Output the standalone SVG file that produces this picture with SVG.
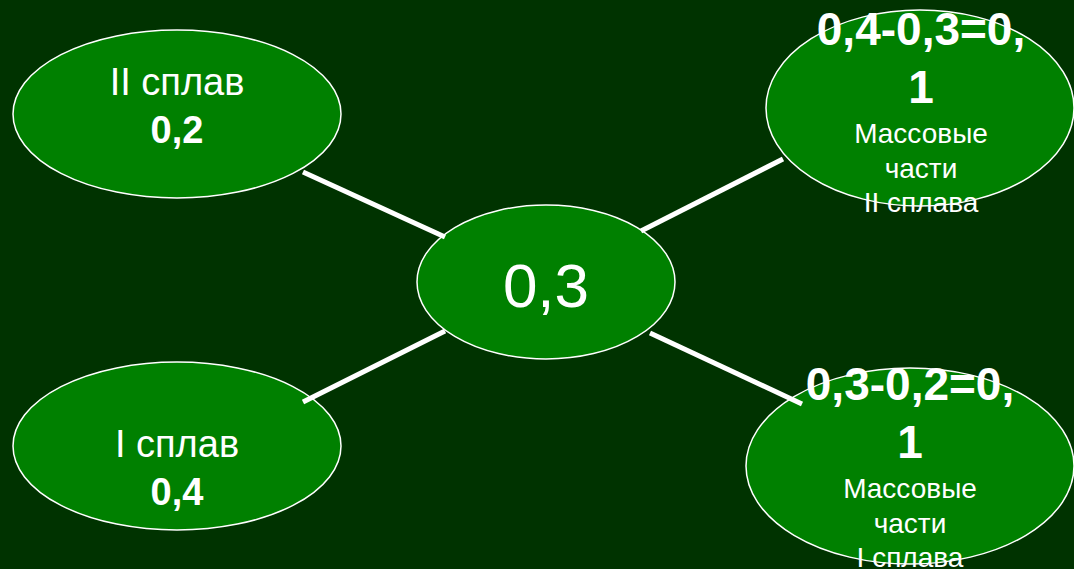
<svg xmlns="http://www.w3.org/2000/svg" width="1074" height="569" viewBox="0 0 1074 569">
<style>
.n{fill:#008000;stroke:#ffffff;stroke-width:1.5}
.c{stroke:#ffffff;stroke-width:5;fill:none}
text{fill:#ffffff;font-family:"Liberation Sans",Arial,sans-serif;text-anchor:middle}
.b{font-weight:bold}
</style>
<rect x="0" y="0" width="1074" height="569" fill="#003300"/>
<g id="n-alloy2">
<ellipse class="n" cx="177" cy="114" rx="164" ry="84"/>
<text x="177" y="95" font-size="38">II сплав</text>
<text x="177" y="143" font-size="38" class="b">0,2</text>
</g>
<g id="n-alloy1">
<ellipse class="n" cx="177" cy="446" rx="164" ry="84"/>
<text x="177" y="457" font-size="38">I сплав</text>
<text x="177" y="505" font-size="38" class="b">0,4</text>
</g>
<g id="n-center">
<ellipse class="n" cx="546" cy="282" rx="129" ry="77"/>
<text x="546" y="307" font-size="62">0,3</text>
</g>
<g id="n-tr">
<ellipse class="n" cx="920" cy="108" rx="154" ry="98"/>
</g>
<g id="n-br">
<ellipse class="n" cx="910" cy="466" rx="164" ry="98"/>
</g>
<g id="connectors">
<line class="c" x1="303" y1="172" x2="445" y2="237"/>
<line class="c" x1="641" y1="231" x2="783" y2="159"/>
<line class="c" x1="303" y1="402" x2="445" y2="331"/>
<line class="c" x1="650" y1="333" x2="802" y2="404"/>
</g>
<g id="n-tr-text">
<text x="921" y="45" font-size="46" class="b">0,4-0,3=0,</text>
<text x="921" y="103" font-size="46" class="b">1</text>
<text x="921" y="143" font-size="28">Массовые</text>
<text x="921" y="178" font-size="28">части</text>
<text x="921" y="212" font-size="28">II сплава</text>
</g>
<g id="n-br-text">
<text x="910" y="400" font-size="46" class="b">0,3-0,2=0,</text>
<text x="910" y="458" font-size="46" class="b">1</text>
<text x="910" y="498" font-size="28">Массовые</text>
<text x="910" y="533" font-size="28">части</text>
<text x="910" y="567" font-size="28">I сплава</text>
</g>
</svg>
